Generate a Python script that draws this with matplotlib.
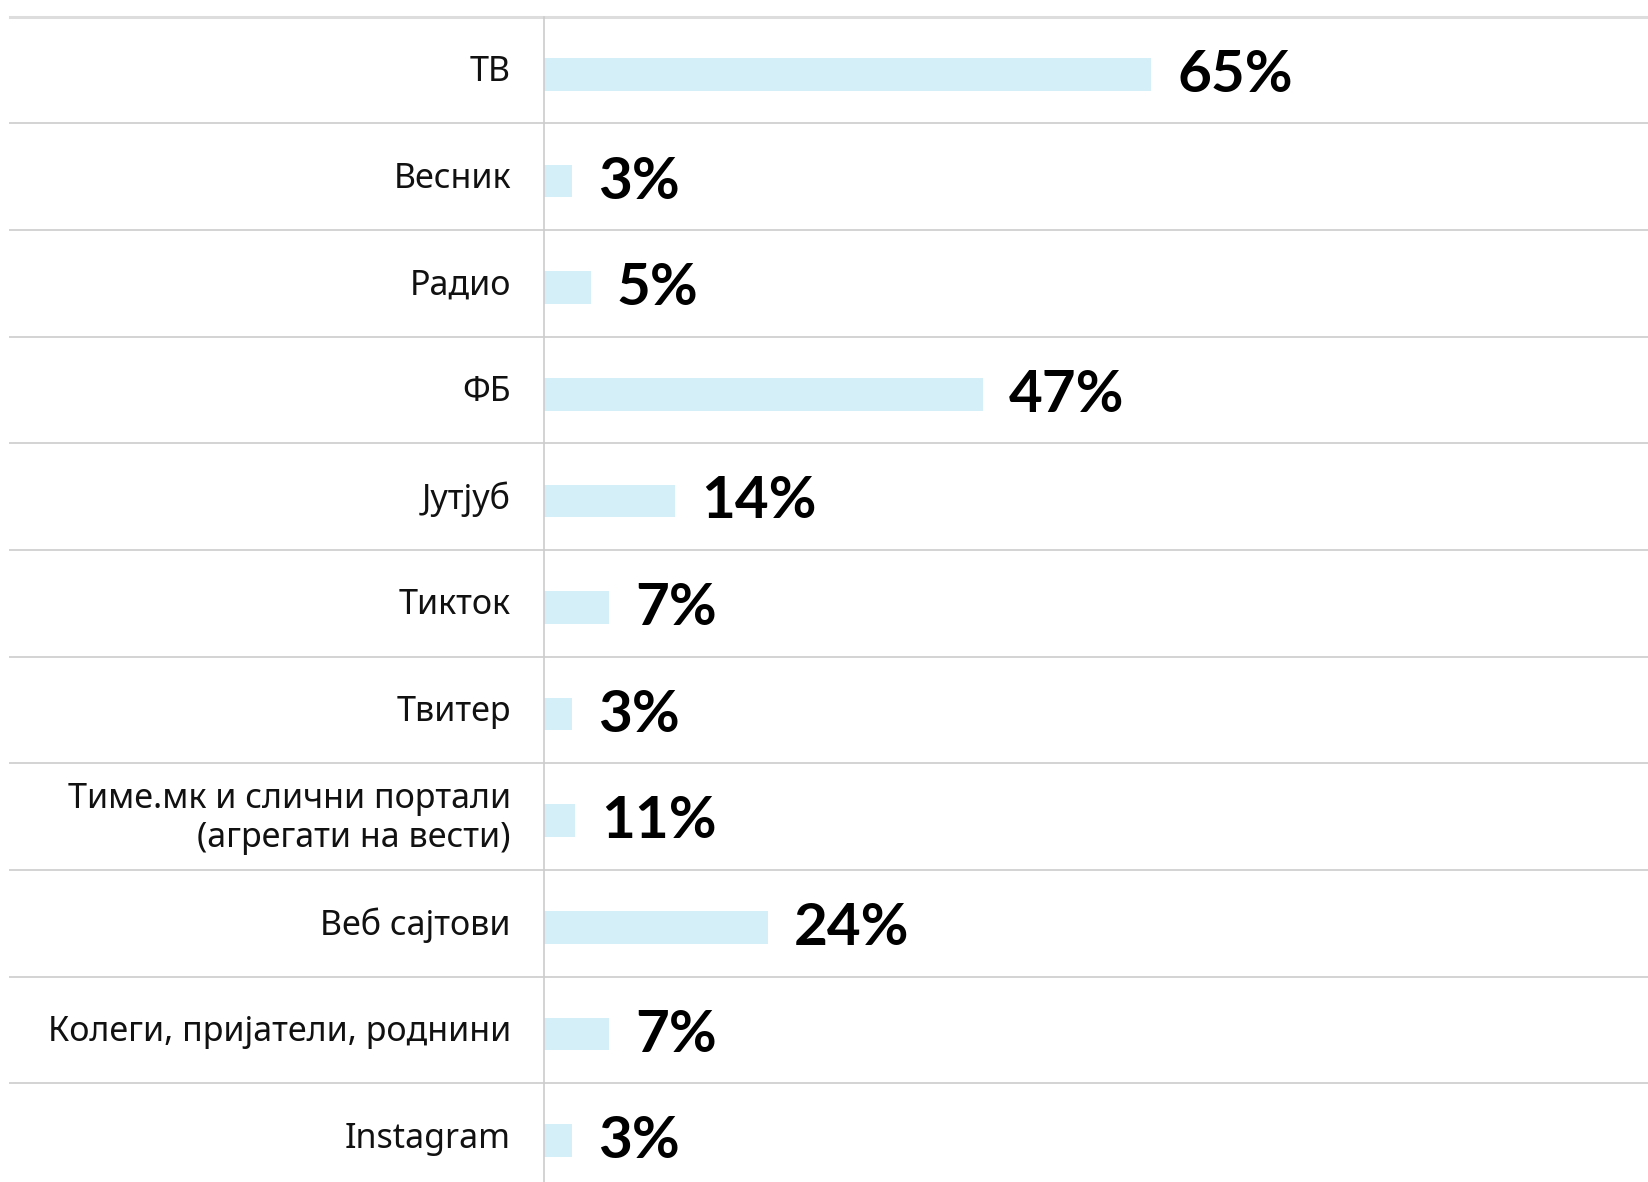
import matplotlib
matplotlib.use("Agg")
import matplotlib.pyplot as plt

categories = ["ТВ", "Весник", "Радио", "ФБ", "Јутјуб", "Тикток", "Твитер",
              "Тиме.мк и слични портали\n(агрегати на вести)", "Веб сајтови",
              "Колеги, пријатели, роднини", "Instagram"]
bar_values = [65, 3, 5, 47, 14, 7, 3, 3.3, 24, 7, 3]
value_labels = ["65%", "3%", "5%", "47%", "14%", "7%", "3%", "11%", "24%", "7%", "3%"]

W, H = 1649, 1182
fig = plt.figure(figsize=(W / 100, H / 100), dpi=100)
fig.patch.set_facecolor("white")

axis_x = 544
top_y = 16.8
row_h = 106.64
left_line_x = 10.5
px_per_pct = 9.34

ax = fig.add_axes([axis_x / W, 0, 1 - axis_x / W, (H - top_y) / H])
ax.set_xlim(0, (W - axis_x) / px_per_pct)
ax.set_ylim((H - top_y) / row_h, 0)
ax.axis("off")

cat_font = "Noto Sans"
num_font = ["Lato", "Noto Sans"]
bar_color = "#d5eff9"
bar_h = 32.6 / row_h
bar_off = 4.2 / row_h

xmin_frac = -(axis_x - left_line_x) / (W - axis_x)

for i, (cat, v, lab) in enumerate(zip(categories, bar_values, value_labels)):
    yc = i + 0.5 + bar_off
    ax.barh(yc, v, height=bar_h, color=bar_color, left=0, zorder=2)
    ax.text(v + 26 / px_per_pct, yc + 0.01, lab, ha="left", va="center",
            fontsize=42, fontweight="bold", family=num_font, color="#000000")
    ax.text(-33 / px_per_pct, i + 0.5 + 0.02, cat, ha="right", va="center",
            fontsize=24.5, family=cat_font, color="#111111", clip_on=False,
            linespacing=1.2)

n = len(categories)
for i in range(n + 1):
    if i == 0:
        ax.axhline(i, xmin=xmin_frac, xmax=1, color="#dddddd", lw=2.2,
                   clip_on=False, zorder=1)
    else:
        ax.axhline(i, xmin=xmin_frac, xmax=1, color="#d3d3d3", lw=1.4,
                   clip_on=False, zorder=1)

ax.axvline(0, ymin=0, ymax=1, color="#cccccc", lw=1.2, zorder=3, clip_on=False)

fig.savefig("out.png", dpi=100, facecolor="white")
